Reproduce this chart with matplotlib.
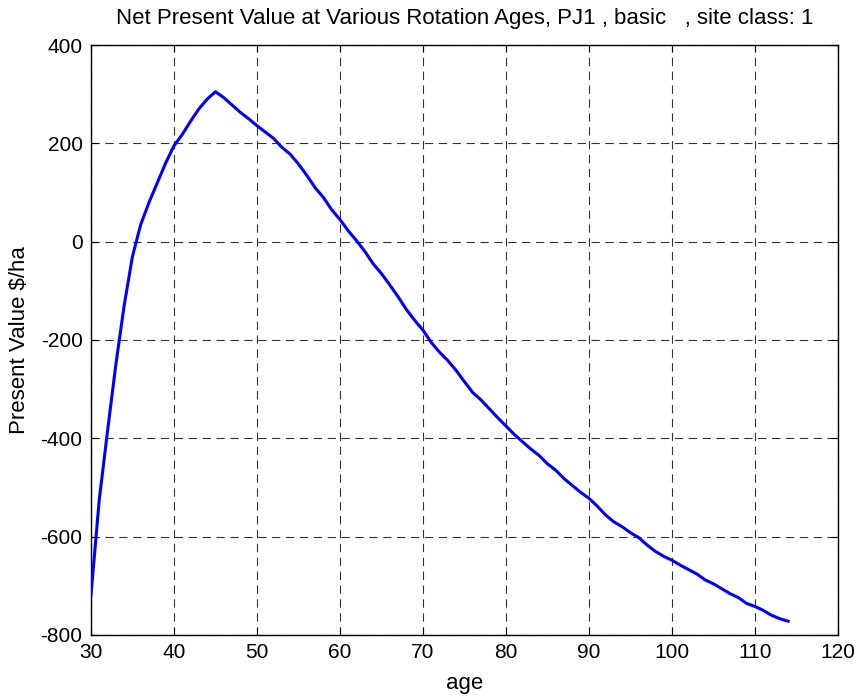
import matplotlib
matplotlib.use('Agg')
import matplotlib.pyplot as plt

# rotation age (years) and net present value ($/ha)
ages = list(range(30, 115))
npv = [-720, -525, -385, -250, -130, -30, 35, 80, 120, 160,
       195, 218, 245, 270, 290, 305, 293, 278, 263, 250,
       236, 223, 210, 192, 178, 158, 135, 110, 90, 65,
       45, 22, 2, -20, -45, -65, -88, -112, -138, -160,
       -180, -205, -225, -242, -262, -285, -307, -322, -340, -358,
       -375, -392, -407, -422, -435, -452, -465, -482, -496, -510,
       -522, -538, -556, -570, -580, -592, -602, -617, -630, -640,
       -648, -658, -667, -676, -688, -696, -706, -716, -724, -736,
       -742, -750, -760, -767, -772]

xticks = [30, 40, 50, 60, 70, 80, 90, 100, 110, 120]
yticks = [-800, -600, -400, -200, 0, 200, 400]

plt.rcParams['font.family'] = ['Liberation Sans', 'DejaVu Sans']
plt.rcParams['lines.scale_dashes'] = False
plt.rcParams['axes.unicode_minus'] = False

fig = plt.figure(figsize=(8.58, 6.98), dpi=100)
ax = fig.add_axes([0.106, 0.0903, 0.8707, 0.8452])

ax.plot(ages, npv, color='#0000ff', lw=2.2, zorder=3)

ax.set_xlim(30, 120)
ax.set_ylim(-800, 400)
ax.set_xticks(xticks)
ax.set_yticks(yticks)
ax.tick_params(direction='in', length=5, width=0.8, top=True, right=True,
               labelsize=15, pad=6, colors='black')
ax.grid(True, color='#333333', linestyle=(0, (6, 4)), lw=0.8)
for s in ax.spines.values():
    s.set_linewidth(1.0)
    s.set_color('black')

ax.set_xlabel('age', fontsize=16, labelpad=8)
ax.set_ylabel(r'Present Value \$/ha', fontsize=16, labelpad=8)
ax.set_title('Net Present Value at Various Rotation Ages, PJ1 , basic   , site class: 1',
             fontsize=16, pad=15)

fig.savefig('out.png', dpi=100)
